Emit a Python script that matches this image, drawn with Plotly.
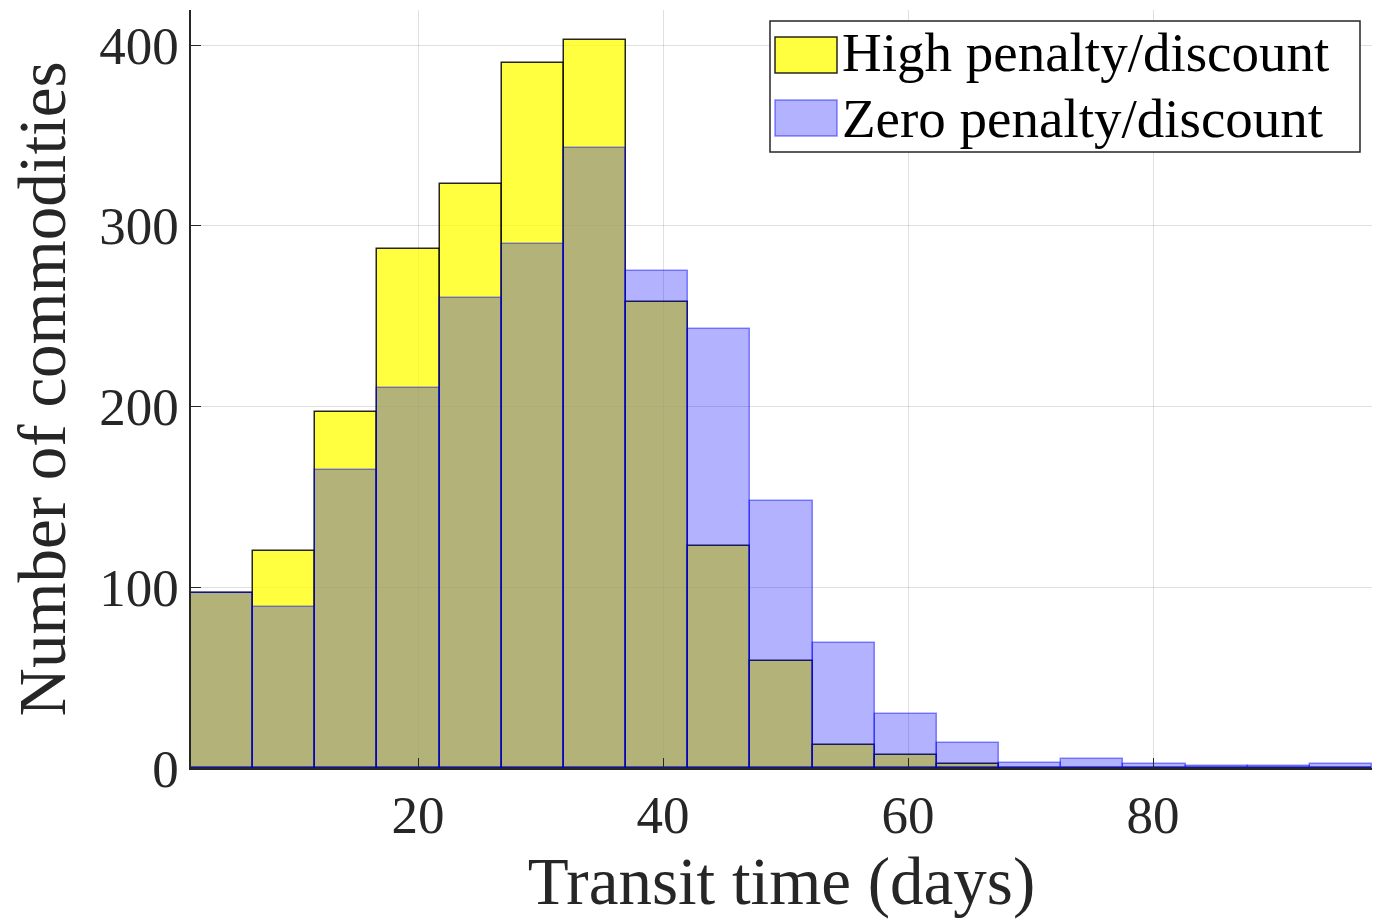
import plotly.graph_objects as go

# Histogram bin layout
bin_start = 1.47
bin_width = 5.074
n_bins = 19

high_penalty = [97, 120, 197, 287, 323, 390, 403, 258, 123, 59, 13, 7, 2, 0, 0, 0, 0, 0, 0]
zero_penalty = [97, 89, 165, 210, 260, 290, 343, 275, 243, 148, 69, 30, 14, 3, 5, 2, 1, 1, 2]

series_names = ["High penalty/discount", "Zero penalty/discount"]
x_ticks = [20, 40, 60, 80]
y_ticks = [0, 100, 200, 300, 400]

centers = [bin_start + bin_width * (i + 0.5) for i in range(n_bins)]

FONT = "Liberation Serif"
YELLOW_FILL = "rgba(255,255,0,0.75)"
YELLOW_EDGE = "rgba(0,0,0,0.85)"
BLUE_FILL = "rgba(0,0,255,0.3)"
BLUE_EDGE = "rgba(0,0,255,0.45)"

W, H = 1382, 919
ML, MR, MT, MB = 191, 10, 10, 151
PW, PH = W - ML - MR, H - MT - MB


def px(x):
    return (x - ML) / PW


def py(y):
    return (H - MB - y) / PH


fig = go.Figure()
fig.add_trace(go.Bar(
    x=centers, y=high_penalty, width=bin_width,
    name=series_names[0], showlegend=False,
    marker=dict(color=YELLOW_FILL, line=dict(color=YELLOW_EDGE, width=1.5)),
))
fig.add_trace(go.Bar(
    x=centers, y=zero_penalty, width=bin_width,
    name=series_names[1], showlegend=False,
    marker=dict(color=BLUE_FILL, line=dict(color=BLUE_EDGE, width=1.5)),
))

# Legend drawn as box + swatches + text (MATLAB-style large swatches)
shapes = [
    dict(type="rect", xref="paper", yref="paper", x0=px(770), x1=px(1360), y0=py(152), y1=py(21),
         fillcolor="white", line=dict(color="#262626", width=1.5), layer="above"),
    dict(type="rect", xref="paper", yref="paper", x0=px(775), x1=px(837), y0=py(73), y1=py(37),
         fillcolor=YELLOW_FILL, line=dict(color=YELLOW_EDGE, width=1.5), layer="above"),
    dict(type="rect", xref="paper", yref="paper", x0=px(775), x1=px(837), y0=py(136), y1=py(100),
         fillcolor=BLUE_FILL, line=dict(color=BLUE_EDGE, width=1.5), layer="above"),
]
annotations = [
    dict(text=series_names[0], xref="paper", yref="paper", x=px(840), y=py(53),
         xanchor="left", yanchor="middle", showarrow=False,
         font=dict(family=FONT, size=55, color="black")),
    dict(text=series_names[1], xref="paper", yref="paper", x=px(840), y=py(118),
         xanchor="left", yanchor="middle", showarrow=False,
         font=dict(family=FONT, size=55, color="black")),
]

fig.update_layout(
    width=W, height=H,
    barmode="overlay",
    bargap=0,
    plot_bgcolor="white", paper_bgcolor="white",
    margin=dict(l=ML, r=MR, t=MT, b=MB),
    font=dict(family=FONT, color="#262626"),
    showlegend=False,
    shapes=shapes,
    annotations=annotations,
)
fig.update_xaxes(
    range=[bin_start, bin_start + bin_width * n_bins],
    tickvals=x_ticks, ticktext=[str(v) for v in x_ticks],
    ticks="inside", ticklen=10, tickcolor="#262626",
    showline=True, linecolor="#262626", linewidth=1.5,
    showgrid=True, gridcolor="rgba(0,0,0,0.12)", gridwidth=1,
    zeroline=False,
    tickfont=dict(family=FONT, size=53, color="#262626"),
    title=dict(text="Transit time (days)", font=dict(family=FONT, size=67, color="#262626"), standoff=10),
)
fig.update_yaxes(
    range=[0, 419.4],
    tickvals=y_ticks, ticktext=[str(v) for v in y_ticks],
    ticks="inside", ticklen=10, tickcolor="#262626",
    showline=True, linecolor="#262626", linewidth=1.5,
    showgrid=True, gridcolor="rgba(0,0,0,0.12)", gridwidth=1,
    zeroline=False,
    tickfont=dict(family=FONT, size=53, color="#262626"),
    title=dict(text="Number of commodities", font=dict(family=FONT, size=67, color="#262626"), standoff=12),
)

fig.write_html("out.html")
